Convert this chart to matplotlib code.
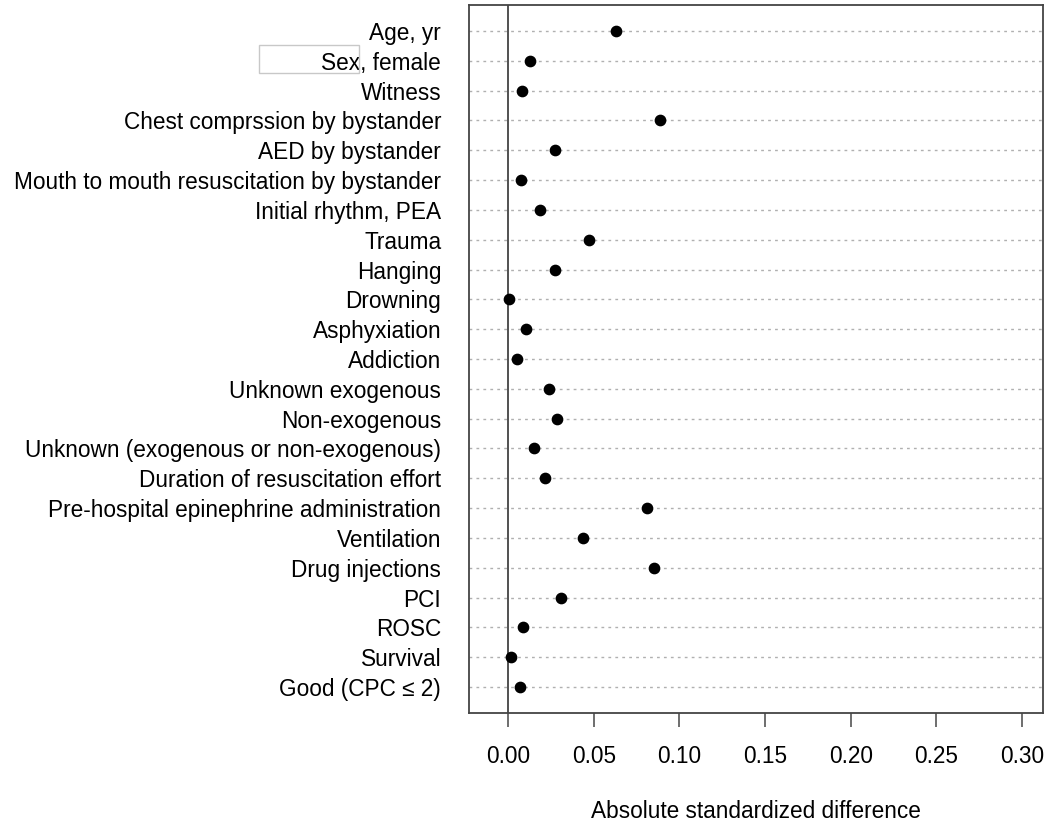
import matplotlib
matplotlib.use("Agg")
import matplotlib.pyplot as plt
from matplotlib.patches import Rectangle

labels = [
    "Age, yr", "Sex, female", "Witness", "Chest comprssion by bystander",
    "AED by bystander", "Mouth to mouth resuscitation by bystander",
    "Initial rhythm, PEA", "Trauma", "Hanging", "Drowning", "Asphyxiation",
    "Addiction", "Unknown exogenous", "Non-exogenous",
    "Unknown (exogenous or non-exogenous)", "Duration of resuscitation effort",
    "Pre-hospital epinephrine administration", "Ventilation", "Drug injections",
    "PCI", "ROSC", "Survival", "Good (CPC \u2264 2)",
]
values = [
    0.063, 0.0128, 0.0082, 0.0887, 0.0274, 0.0076, 0.0187, 0.0473, 0.0274,
    0.0006, 0.0105, 0.0053, 0.0239, 0.0286, 0.0152, 0.0216, 0.0811, 0.0438,
    0.0852, 0.0309, 0.0088, 0.0018, 0.0070,
]
xticks = [0.00, 0.05, 0.10, 0.15, 0.20, 0.25, 0.30]
xtick_labels = ["0.00", "0.05", "0.10", "0.15", "0.20", "0.25", "0.30"]

plt.rcParams['font.family'] = ['Liberation Sans', 'DejaVu Sans']

W, H = 1053, 824
fig = plt.figure(figsize=(W / 100, H / 100), dpi=100)
ax = fig.add_axes([469 / W, 1 - 713 / H, (1043 - 469) / W, (713 - 5) / H])

n = len(labels)
ys = list(range(n))
for y in ys:
    ax.axhline(y, color="#b0b0b0", linestyle=(0, (2, 3)), linewidth=1.0, zorder=1)
ax.axvline(0, color="#333333", linewidth=1.2, zorder=2)
ax.scatter(values, ys, s=55, color="black", zorder=3)

fs = 16.3
ax.set_xlim(-0.0228, 0.3123)
ax.set_ylim(n - 1 + 0.87, -0.87)
ax.set_yticks(ys)
ax.set_yticklabels(labels, fontsize=fs)
ax.tick_params(axis="y", length=0, pad=20)
ax.set_xticks(xticks)
ax.set_xticklabels(xtick_labels, fontsize=fs)
ax.tick_params(axis="x", length=10, width=1.2, color="#555555", pad=13)
ax.set_xlabel("Absolute standardized difference", fontsize=fs, labelpad=23)
for s in ax.spines.values():
    s.set_color("#444444")
    s.set_linewidth(1.3)

fig.patches.append(Rectangle((259 / W, 1 - 73 / H), 100 / W, 28 / H,
                             transform=fig.transFigure, fill=False,
                             edgecolor="#c8c8c8", linewidth=1.0))

fig.savefig("out.png", dpi=100)
